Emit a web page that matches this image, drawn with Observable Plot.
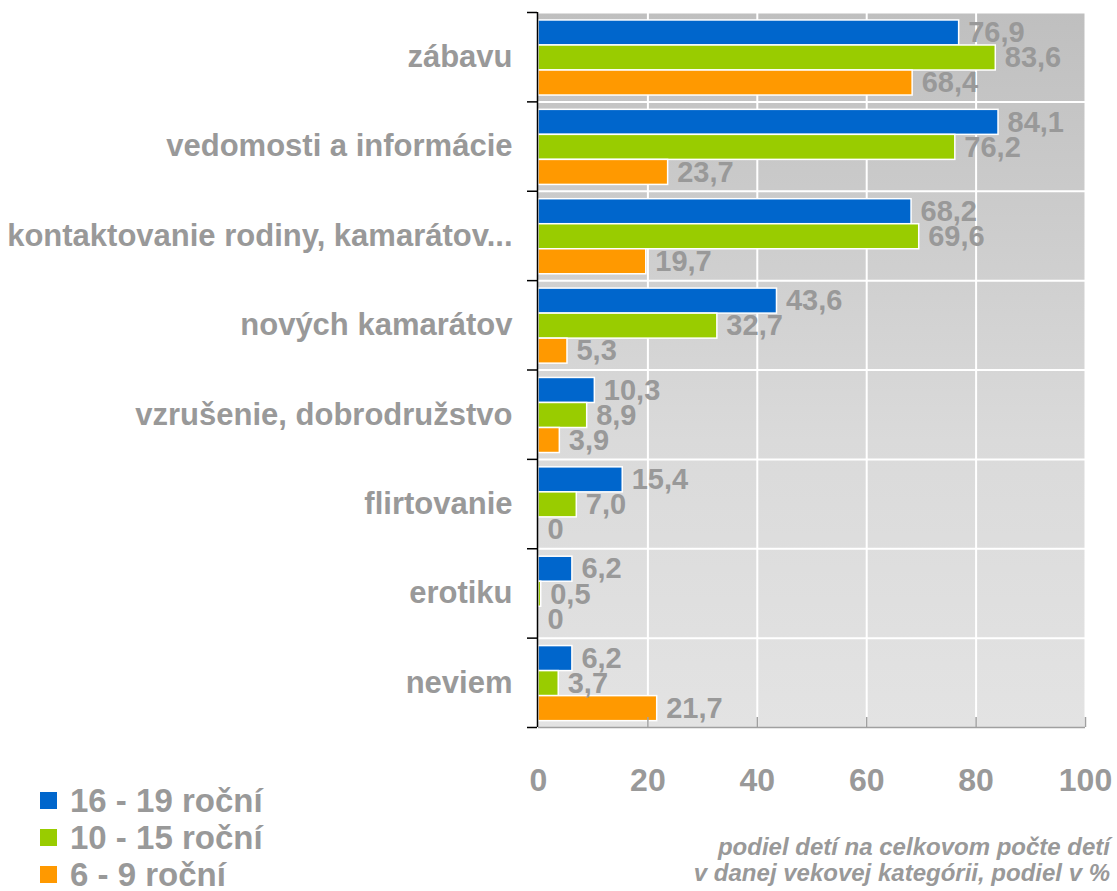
<!DOCTYPE html>
<html>
<head>
<meta charset="utf-8">
<script src="https://cdn.jsdelivr.net/npm/d3@7"></script>
<script src="https://cdn.jsdelivr.net/npm/@observablehq/plot@0.6"></script>
<style>
  body { margin: 0; background: #fff; }
  #wrap { position: relative; width: 1117px; height: 891px; overflow: hidden;
          font-family: "Liberation Sans", Arial, Helvetica, sans-serif; }
  #legend { position: absolute; left: 40px; top: 782px; }
  .row { display: flex; align-items: center; height: 37px; font-size: 33px;
         font-weight: bold; color: #999; white-space: nowrap; }
  .sw { width: 17px; height: 17px; margin-right: 13px; flex: none; }
  #caption { position: absolute; right: 7px; top: 834px; text-align: right;
             font-size: 24px; line-height: 26px; font-weight: bold; font-style: italic;
             color: #999; white-space: nowrap; }
</style>
</head>
<body>
<svg width="0" height="0" style="position:absolute">
  <defs>
    <linearGradient id="bg" x1="0" y1="0" x2="0" y2="1">
      <stop offset="0" stop-color="#bfbfbf"/>
      <stop offset="0.6" stop-color="#dadada"/>
      <stop offset="1" stop-color="#e3e3e3"/>
    </linearGradient>
  </defs>
</svg>
<div id="wrap">
  <div id="chart"></div>
  <div id="legend"></div>
  <div id="caption">podiel detí na celkovom počte detí<br>v danej vekovej kategórii, podiel v %</div>
</div>
<script>
const categories = [
  "zábavu",
  "vedomosti a informácie",
  "kontaktovanie rodiny, kamarátov...",
  "nových kamarátov",
  "vzrušenie, dobrodružstvo",
  "flirtovanie",
  "erotiku",
  "neviem"
];
const seriesNames = ["16 - 19 roční", "10 - 15 roční", "6 - 9 roční"];
const values16_19 = [76.9, 84.1, 68.2, 43.6, 10.3, 15.4, 6.2, 6.2];
const values10_15 = [83.6, 76.2, 69.6, 32.7, 8.9, 7.0, 0.5, 3.7];
const values6_9   = [68.4, 23.7, 19.7, 5.3, 3.9, 0, 0, 21.7];
const colors = ["#0066cc", "#99cc00", "#ff9900"];
const xTicks = [0, 20, 40, 60, 80, 100];

const seriesValues = [values16_19, values10_15, values6_9];
const rows = [];
seriesValues.forEach((vals, k) => vals.forEach((v, i) => rows.push({i, k, series: seriesNames[k], value: v})));

const PAD = 0.089, SLOT = 0.28;
const n = categories.length;
const fmt = v => v === 0 ? "0" : v.toFixed(1).replace(".", ",");
const font = "Liberation Sans, Arial, Helvetica, sans-serif";
const gray = "#999";

const chart = Plot.plot({
  width: 1117,
  height: 891,
  marginLeft: 538,
  marginRight: 32,
  marginTop: 12,
  marginBottom: 164,
  x: {domain: [xTicks[0], xTicks[xTicks.length - 1]], axis: null},
  y: {domain: [0, n], reverse: true, axis: null},
  color: {domain: seriesNames, range: colors},
  style: {fontFamily: font, background: "transparent", overflow: "visible"},
  marks: [
    Plot.rect([0], {x1: () => xTicks[0], x2: () => xTicks[xTicks.length - 1], y1: () => 0, y2: () => n, fill: "url(#bg)"}),
    Plot.ruleX(xTicks.slice(1), {stroke: "white", strokeWidth: 2}),
    Plot.ruleY(d3.range(0, n), {stroke: "white", strokeWidth: 2}),
    Plot.rect(rows.filter(d => d.value > 0), {
      x1: () => 0, x2: "value",
      y1: d => d.i + PAD + SLOT * d.k,
      y2: d => d.i + PAD + SLOT * (d.k + 1),
      fill: "series", stroke: "white", strokeWidth: 1.5
    }),
    Plot.text(rows, {
      x: "value", y: d => d.i + PAD + SLOT * (d.k + 0.5),
      text: d => fmt(d.value), textAnchor: "start", lineAnchor: "middle", dx: 9,
      fill: gray, fontSize: 29, fontWeight: "bold", fontFamily: font
    }),
    Plot.text(categories, {
      y: (d, i) => i + 0.5, text: d => d, frameAnchor: "left", textAnchor: "end", lineAnchor: "middle",
      dx: -26, fill: gray, fontSize: 31, fontWeight: "bold", fontFamily: font
    }),
    // left axis
    Plot.ruleX([0], {stroke: "black", strokeWidth: 1.5, dx: -1}),
    Plot.ruleY(d3.range(0, n + 1), {x1: () => 0, x2: () => 0, insetLeft: -10, dx: -1, stroke: "black", strokeWidth: 1.5}),
    // bottom axis
    Plot.ruleY([n], {stroke: "#a0a0a0", strokeWidth: 1.5}),
    Plot.ruleX(xTicks.slice(1), {y1: () => n, y2: () => n, insetTop: -10, stroke: "#a0a0a0", strokeWidth: 1.5}),
    Plot.text(xTicks, {
      x: d => d, y: () => n, dy: 53, text: d => String(d), lineAnchor: "middle",
      fill: gray, fontSize: 32, fontWeight: "bold", fontFamily: font
    })
  ]
});
document.getElementById("chart").appendChild(chart);

const legend = document.getElementById("legend");
seriesNames.forEach((name, k) => {
  const row = document.createElement("div");
  row.className = "row";
  const sw = document.createElement("span");
  sw.className = "sw";
  sw.style.background = colors[k];
  row.appendChild(sw);
  row.appendChild(document.createTextNode(name));
  legend.appendChild(row);
});
</script>
</body>
</html>
